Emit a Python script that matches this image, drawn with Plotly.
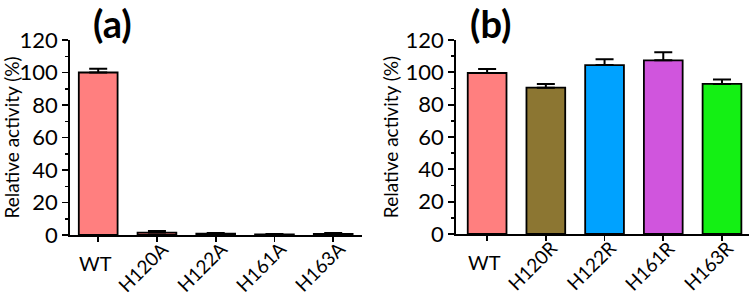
import plotly.graph_objects as go

# ---- data ----
cats_a = ["WT", "H120A", "H122A", "H161A", "H163A"]
vals_a = [100, 1.5, 0.8, 0.3, 0.7]
err_a = [2.3, 1.0, 0.5, 0.3, 0.5]

cats_b = ["WT", "H120R", "H122R", "H161R", "H163R"]
vals_b = [99.6, 90.5, 104.5, 107.4, 92.8]
err_b = [2.4, 2.3, 3.6, 5.0, 2.7]

colors_a = ["#FF7F7F", "#FF7F7F", "#FF7F7F", "#FF7F7F", "#FF7F7F"]
colors_b = ["#FF7F7F", "#8C7632", "#00A2FF", "#D055DD", "#14F014"]

yticks = [0, 20, 40, 60, 80, 100, 120]
panel_titles = ["(a)", "(b)"]
y_title = "Relative activity (%)"

W, H = 754, 296
FONT = "Lato"

fig = go.Figure()

fig.add_trace(go.Bar(
    x=cats_a, y=vals_a, xaxis="x", yaxis="y",
    marker=dict(color=colors_a, line=dict(color="black", width=1.8)),
    width=0.66,
    error_y=dict(type="data", array=err_a, arrayminus=[0]*len(err_a), symmetric=False,
                 color="black", thickness=2, width=9),
    showlegend=False,
))
fig.add_trace(go.Bar(
    x=cats_b, y=vals_b, xaxis="x2", yaxis="y2",
    marker=dict(color=colors_b, line=dict(color="black", width=1.8)),
    width=0.66,
    error_y=dict(type="data", array=err_b, arrayminus=[0]*len(err_b), symmetric=False,
                 color="black", thickness=2, width=9),
    showlegend=False,
))

def px_x(p):
    return p / W

def px_y(p):
    return 1 - p / H

common_x = dict(type="category", showline=True, linecolor="black", linewidth=1.8,
                ticks="outside", ticklen=5, tickwidth=1.8, tickcolor="black",
                showticklabels=False, showgrid=False, zeroline=False, fixedrange=True,
                automargin=False)
common_y = dict(range=[0, 120], tickvals=yticks, showline=True, linecolor="black",
                linewidth=1.8, ticks="outside", ticklen=6, tickwidth=1.8,
                tickcolor="black", showgrid=False, zeroline=False, automargin=False,
                fixedrange=True,
                tickfont=dict(family=FONT, size=22, color="black"),
                minor=dict(dtick=10, ticks="outside", ticklen=3, tickwidth=1.5,
                           tickcolor="black"),
                title=dict(text=y_title, font=dict(family=FONT, size=19, color="black"),
                           standoff=2))

fig.update_layout(
    width=W, height=H,
    margin=dict(l=0, r=0, t=0, b=0, autoexpand=False),
    paper_bgcolor="white", plot_bgcolor="white",
    bargap=0.34,
    hovermode=False,
    xaxis=dict(domain=[px_x(70), px_x(362)], range=[-0.48, 4.49], anchor="y", **common_x),
    yaxis=dict(domain=[px_y(235), px_y(40)], anchor="x", **common_y),
    xaxis2=dict(domain=[px_x(456), px_x(749)], range=[-0.53, 4.46], anchor="y2", **common_x),
    yaxis2=dict(domain=[px_y(234), px_y(40)], anchor="x2", **common_y),
)

annotations = []
# panel titles
for t, cx in zip(panel_titles, [112, 490]):
    annotations.append(dict(text="<b>" + t + "</b>", xref="paper", yref="paper",
                            x=px_x(cx), y=px_y(23), xanchor="center", yanchor="middle",
                            showarrow=False,
                            font=dict(family=FONT, size=38, color="black")))

# category labels: first horizontal, others rotated
for cats, xr, yr in [(cats_a, "x", "y"), (cats_b, "x2", "y2")]:
    for i, c in enumerate(cats):
        if i == 0:
            annotations.append(dict(text=c, x=c, y=0, xref=xr, yref=yr, showarrow=False,
                                    xanchor="center", yanchor="top", yshift=-14, xshift=-3,
                                    font=dict(family=FONT, size=20, color="black")))
        else:
            annotations.append(dict(text=c, x=c, y=0, xref=xr, yref=yr, showarrow=False,
                                    textangle=-45, xanchor="center", yanchor="middle",
                                    yshift=-31, xshift=-14,
                                    font=dict(family=FONT, size=19, color="black")))
fig.update_layout(annotations=annotations)

# remove the page's default body margin so the figure sits at the window origin
fig.write_html("out.html", config={"displayModeBar": False, "staticPlot": True},
               post_script="document.body.style.margin='0';")
